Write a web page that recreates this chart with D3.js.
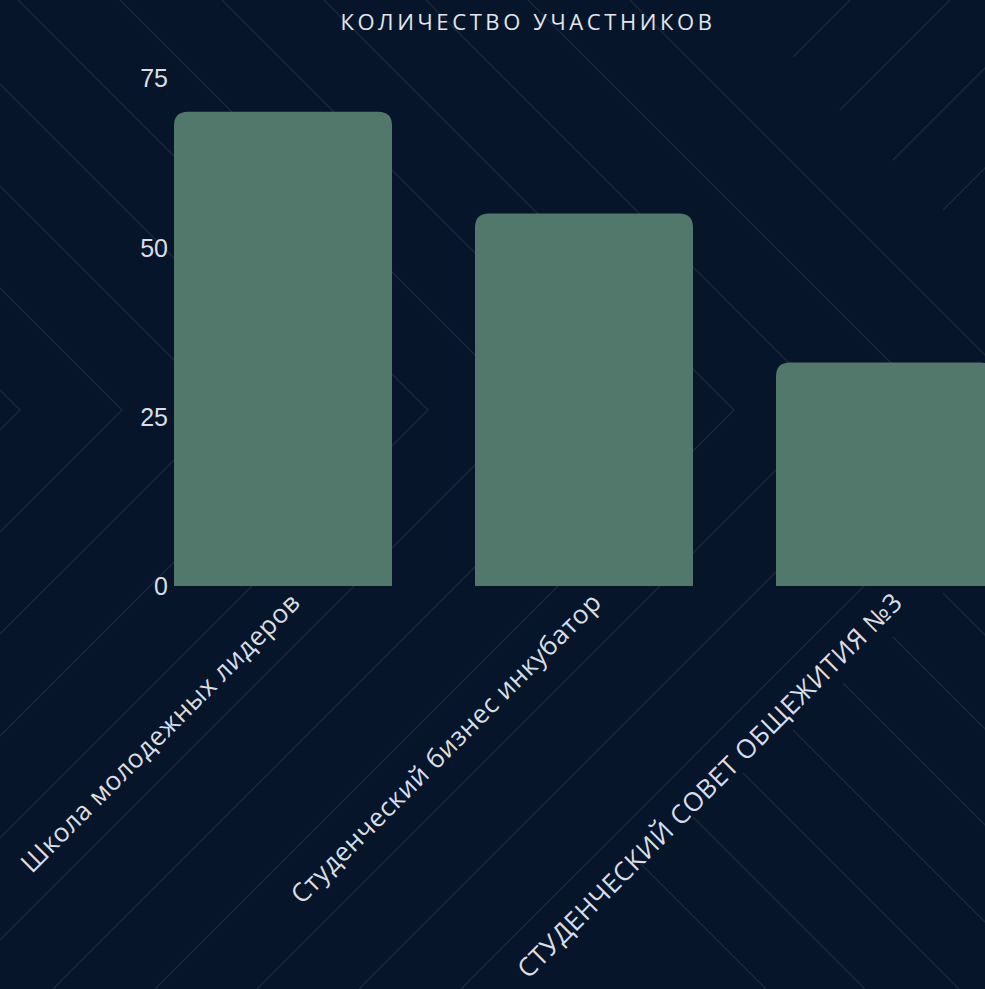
<!DOCTYPE html>
<html>
<head>
<meta charset="utf-8">
<script src="https://cdn.jsdelivr.net/npm/d3@7"></script>
<style>
  html, body { margin: 0; padding: 0; background: #07152a; overflow: hidden; }
  svg { display: block; }
</style>
</head>
<body>
<svg id="chart" width="985" height="989"></svg>
<script>
// ---- data ----
const title = "КОЛИЧЕСТВО УЧАСТНИКОВ";
const categories = [
  "Школа молодежных лидеров",
  "Студенческий бизнес инкубатор",
  "СТУДЕНЧЕСКИЙ СОВЕТ ОБЩЕЖИТИЯ №3"
];
const values = [70, 55, 33];
const yTicks = [0, 25, 50, 75];

// ---- setup ----
const W = 985, H = 989;
const svg = d3.select("#chart");
svg.append("rect").attr("width", W).attr("height", H).attr("fill", "#07152a");

// decorative background lines (slide pattern)
const deco = svg.append("g").attr("stroke", "#1c283a").attr("stroke-width", 1.4).attr("fill", "none");
const tipY = 410;
const tips = d3.range(0, 11).map(k => 20 + 102 * k);
tips.forEach(tx => {
  deco.append("path").attr("d", `M${tx - tipY},0 L${tx},${tipY} L${tx - (H - tipY)},${H}`);
});
const upRight = [[793,57,850,0],[840,110,950,0],[893,160,1003,50],[943,210,1050,103]];
upRight.forEach(s => deco.append("line").attr("x1", s[0]).attr("y1", s[1]).attr("x2", s[2]).attr("y2", s[3]));
const downRight = [[943,593,1100,750],[893,637,1100,844],[843,683,1100,940],[793,730,1052,989],[743,773,959,989],[693,817,865,989],[640,863,766,989]];
downRight.forEach(s => deco.append("line").attr("x1", s[0]).attr("y1", s[1]).attr("x2", s[2]).attr("y2", s[3]));

// ---- scales ----
const x = d3.scaleBand().domain(categories).range([174, 994]).paddingInner(0.2757).paddingOuter(0);
const y = d3.scaleLinear().domain([0, 75]).range([586, 78]);

// title
svg.append("text")
  .attr("x", 528).attr("y", 30)
  .attr("text-anchor", "middle")
  .attr("fill", "#e2e6ec")
  .attr("font-family", "'Open Sans', sans-serif")
  .attr("font-size", 22)
  .attr("letter-spacing", 3.6)
  .text(title);

// bars with rounded top corners
const r = 14;
function barPath(x0, w, yTop, yBase) {
  const rr = Math.min(r, (yBase - yTop), w / 2);
  return `M${x0},${yBase} L${x0},${yTop + rr} Q${x0},${yTop} ${x0 + rr},${yTop} L${x0 + w - rr},${yTop} Q${x0 + w},${yTop} ${x0 + w},${yTop + rr} L${x0 + w},${yBase} Z`;
}
svg.append("g").selectAll("path").data(categories).join("path")
  .attr("d", (c, i) => barPath(x(c), x.bandwidth(), y(values[i]), y(0)))
  .attr("fill", "#52776b");

// y axis (labels only)
const yAxis = d3.axisLeft(y).tickValues(yTicks).tickSize(0).tickPadding(0);
const gy = svg.append("g").attr("transform", "translate(168,0)").call(yAxis);
gy.select(".domain").remove();
gy.selectAll("text")
  .attr("fill", "#d9dee4")
  .attr("font-family", "'Liberation Sans', Arial, sans-serif")
  .attr("font-size", 25)
  .attr("dy", "0.35em");

// x axis labels (rotated)
const xAxis = d3.axisBottom(x).tickSize(0).tickPadding(0);
const gx = svg.append("g").attr("transform", `translate(0,${y(0)})`).call(xAxis);
gx.select(".domain").remove();
gx.selectAll(".tick text")
  .attr("fill", "#d9dee4")
  .attr("font-family", "'Open Sans', sans-serif")
  .attr("font-size", 26)
  .attr("letter-spacing", 0.5)
  .attr("text-anchor", "end")
  .attr("dy", 0)
  .attr("y", 0)
  .attr("transform", "translate(19,18) rotate(-45)");
</script>
</body>
</html>
